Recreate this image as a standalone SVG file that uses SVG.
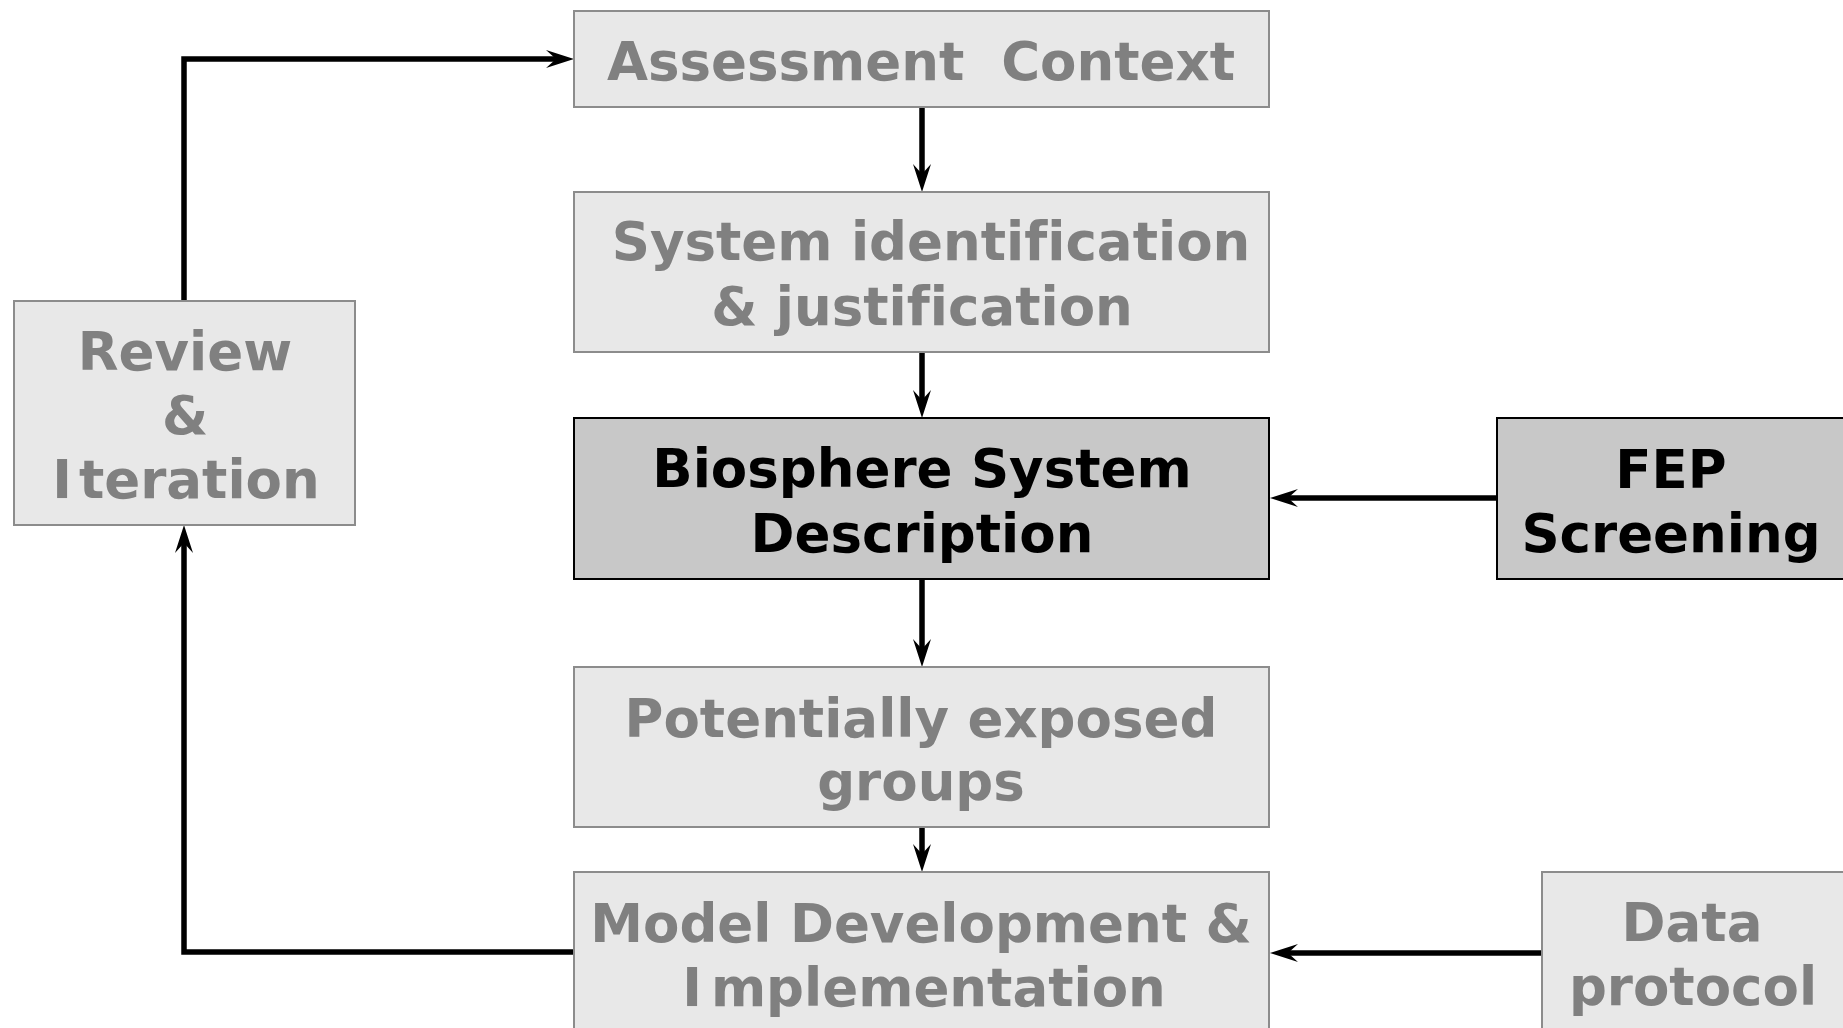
<svg xmlns="http://www.w3.org/2000/svg" width="1843" height="1028" viewBox="0 0 1843 1028">
<style>
.box{fill:#e8e8e8;stroke:#8c8c8c;stroke-width:2}
.key{fill:#c8c8c8;stroke:#000;stroke-width:2}
.t{font-family:"DejaVu Sans",Verdana,sans-serif;font-weight:bold;font-size:53px;text-anchor:middle;fill:#808080;font-variant-ligatures:none;font-feature-settings:"liga" 0}
.k{fill:#000}
.c{fill:none;stroke:#000;stroke-width:5.5}
</style>
<defs>
<marker id="ah" markerUnits="userSpaceOnUse" markerWidth="30" markerHeight="20" viewBox="0 -10 30 20" refX="12" refY="0" orient="auto">
<path d="M28,0 L0,-9 L10,0 L0,9 Z" fill="#000"/>
</marker>
</defs>
<rect width="1843" height="1028" fill="#fff"/>
<g id="connectors">
<path class="c" d="M922,107 L922,176" marker-end="url(#ah)"/>
<path class="c" d="M922,352 L922,402" marker-end="url(#ah)"/>
<path class="c" d="M922,579 L922,651" marker-end="url(#ah)"/>
<path class="c" d="M922,827 L922,856" marker-end="url(#ah)"/>
<path class="c" d="M1497,498 L1286,498" marker-end="url(#ah)"/>
<path class="c" d="M1542,953 L1286,953" marker-end="url(#ah)"/>
<path class="c" d="M574,952 L184,952 L184,541" marker-end="url(#ah)"/>
<path class="c" d="M184,301 L184,59 L558,59" marker-end="url(#ah)"/>
</g>
<g id="assessment">
<rect class="box" x="574" y="11" width="695" height="96"/>
<text class="t" x="921" y="80" xml:space="preserve">Assessment  Context</text>
</g>
<g id="system">
<rect class="box" x="574" y="192" width="695" height="160"/>
<text class="t" x="931" y="260">System identification</text>
<text class="t" x="922" y="325">&amp; justification</text>
</g>
<g id="biosphere">
<rect class="key" x="574" y="418" width="695" height="161"/>
<text class="t k" x="922" y="487">Biosphere System</text>
<text class="t k" x="922" y="552">Description</text>
</g>
<g id="fep">
<rect class="key" x="1497" y="418" width="350" height="161"/>
<text class="t k" x="1671" y="488">FEP</text>
<text class="t k" x="1671" y="552">Screening</text>
</g>
<g id="groups">
<rect class="box" x="574" y="667" width="695" height="160"/>
<text class="t" x="921" y="737">Potentially exposed</text>
<text class="t" x="921" y="800">groups</text>
</g>
<g id="model">
<rect class="box" x="574" y="872" width="695" height="170"/>
<text class="t" x="921" y="942">Model Development &amp;</text>
<text class="t" x="924" y="1006"><tspan>I</tspan><tspan dx="9">mplementation</tspan></text>
</g>
<g id="data">
<rect class="box" x="1542" y="872" width="310" height="170"/>
<text class="t" x="1692" y="941">Data</text>
<text class="t" x="1693" y="1005">protocol</text>
</g>
<g id="review">
<rect class="box" x="14" y="301" width="341" height="224"/>
<text class="t" x="185" y="370">Review</text>
<text class="t" x="185" y="434">&amp;</text>
<text class="t" x="186" y="498"><tspan>I</tspan><tspan dx="7">teration</tspan></text>
</g>
</svg>
